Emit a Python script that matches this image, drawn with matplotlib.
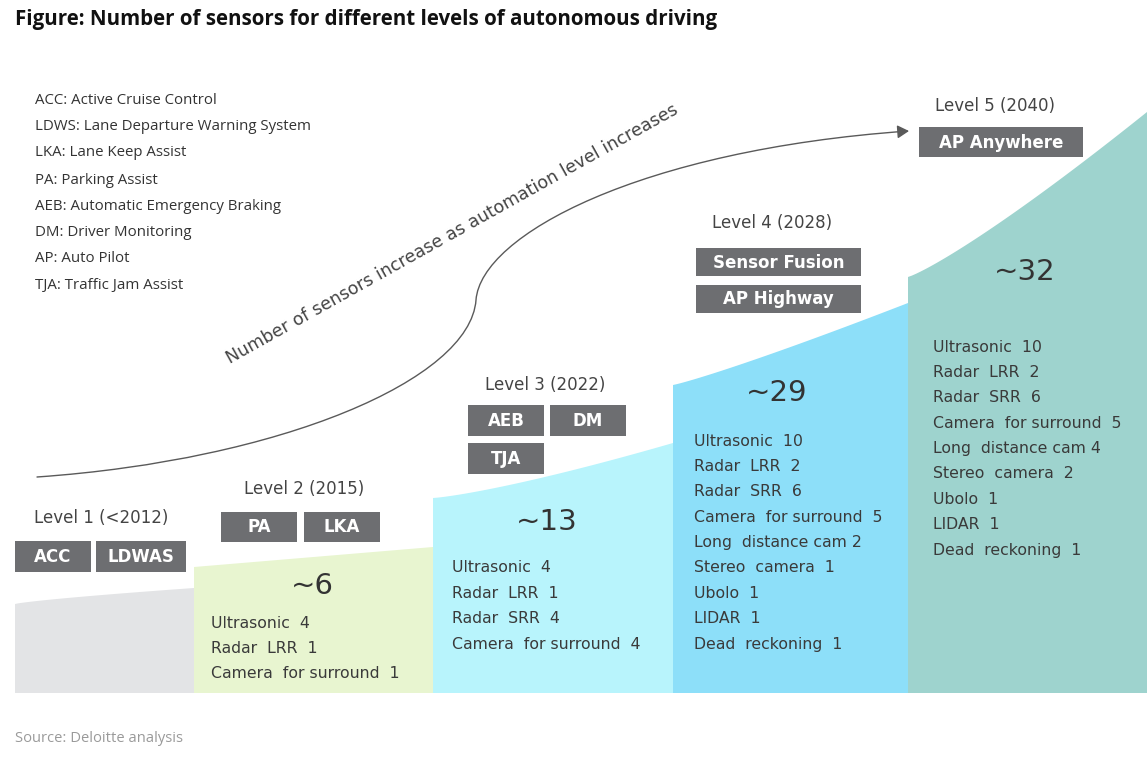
import matplotlib
matplotlib.use("Agg")
import matplotlib.pyplot as plt
import numpy as np
from matplotlib.path import Path
from matplotlib.patches import FancyArrowPatch, Rectangle, Polygon

# ---------------- data ----------------
title = "Figure: Number of sensors for different levels of autonomous driving"
source = "Source: Deloitte analysis"
glossary = ["ACC: Active Cruise Control",
            "LDWS: Lane Departure Warning System",
            "LKA: Lane Keep Assist",
            "PA: Parking Assist",
            "AEB: Automatic Emergency Braking",
            "DM: Driver Monitoring",
            "AP: Auto Pilot",
            "TJA: Traffic Jam Assist"]
levels = ["Level 1 (<2012)", "Level 2 (2015)", "Level 3 (2022)",
          "Level 4 (2028)", "Level 5 (2040)"]
totals = [None, "~6", "~13", "~29", "~32"]
features = [["ACC", "LDWAS"], ["PA", "LKA"], ["AEB", "DM", "TJA"],
            ["Sensor Fusion", "AP Highway"], ["AP Anywhere"]]
sensors = [
    [],
    [("Ultrasonic", 4), ("Radar  LRR", 1), ("Camera  for surround", 1)],
    [("Ultrasonic", 4), ("Radar  LRR", 1), ("Radar  SRR", 4), ("Camera  for surround", 4)],
    [("Ultrasonic", 10), ("Radar  LRR", 2), ("Radar  SRR", 6), ("Camera  for surround", 5),
     ("Long  distance cam", 2), ("Stereo  camera", 1), ("Ubolo", 1), ("LIDAR", 1),
     ("Dead  reckoning", 1)],
    [("Ultrasonic", 10), ("Radar  LRR", 2), ("Radar  SRR", 6), ("Camera  for surround", 5),
     ("Long  distance cam", 4), ("Stereo  camera", 2), ("Ubolo", 1), ("LIDAR", 1),
     ("Dead  reckoning", 1)],
]
arrow_label = "Number of sensors increase as automation level increases"

# ---------------- layout / style ----------------
col_colors = ["#e3e4e6", "#e8f5d0", "#b8f4fc", "#8ddff9", "#9ed3ce"]
col_left = [15, 194, 433, 673, 908]
col_right = [194, 433, 673, 908, 1147]
top_left = [604, 567, 498, 385, 277]
top_right = [588, 547, 443, 303, 112]
top_pow = [0.8, 1.0, 1.26, 1.11, 1.16]
bottom = 693
box_color = "#6d6e71"
text_dark = "#3a3a3a"

# box rectangles (x0, y0, x1, y1) per level
boxes = [
    [(15, 541, 91, 572), (96, 541, 186, 572)],
    [(221, 512, 297, 542), (304, 512, 380, 542)],
    [(468, 405, 544, 436), (550, 405, 626, 436), (468, 443, 544, 474)],
    [(696, 248, 861, 276), (696, 285, 861, 313)],
    [(919, 127, 1083, 157)],
]
level_pos = [(101, 518), (304, 489), (545, 385), (772, 223), (995, 106)]
total_pos = [None, (312, 586), (547, 522), (777, 393), (1025, 272)]
list_pos = [None, (211, 623), (452, 568), (694, 441), (933, 347)]
line_step = 25.4

W, H = 1148, 760
fig = plt.figure(figsize=(W / 100, H / 100), dpi=100)
ax = fig.add_axes([0, 0, 1, 1])
ax.set_xlim(0, W)
ax.set_ylim(H, 0)
ax.axis("off")

VER = ["DejaVu Sans"]
OS = ["Open Sans", "DejaVu Sans"]

# columns
for i in range(5):
    xs = np.linspace(col_left[i], col_right[i], 60)
    t = (xs - col_left[i]) / (col_right[i] - col_left[i])
    ys = top_left[i] + (top_right[i] - top_left[i]) * t ** top_pow[i]
    pts = list(zip(xs, ys)) + [(col_right[i], bottom), (col_left[i], bottom)]
    ax.add_patch(Polygon(pts, closed=True, facecolor=col_colors[i],
                         edgecolor="none", zorder=1))

# title & source
ax.text(15, 20, title, fontsize=14.8, fontweight="bold", family=OS,
        color="#111111", va="center", ha="left")
ax.text(15, 739, source, fontsize=10.6, family=OS, color="#9a9a9a",
        va="center", ha="left")

# glossary
gy = [101, 126, 153, 180, 206, 233, 258, 285]
for s, y in zip(glossary, gy):
    ax.text(35, y, s, fontsize=10.8, family=OS, color="#333333",
            va="center", ha="left")

# curved arrow
verts = [(37, 477), (280, 460), (470, 380), (476, 300),
         (481, 235), (640, 150), (909, 131)]
codes = [Path.MOVETO, Path.CURVE4, Path.CURVE4, Path.CURVE4,
         Path.CURVE4, Path.CURVE4, Path.CURVE4]
arr = FancyArrowPatch(path=Path(verts, codes),
                      arrowstyle="-|>,head_length=7,head_width=4",
                      color="#5a5a5a", lw=1.0, zorder=3)
ax.add_patch(arr)
ax.text(452, 234, arrow_label, fontsize=12.6, family=VER, color="#444444",
        rotation=29.2, rotation_mode="anchor", ha="center", va="center")

# levels
for i in range(5):
    lx, ly = level_pos[i]
    ax.text(lx, ly, levels[i], fontsize=12, family=VER, color="#444444",
            ha="center", va="center")
    for (x0, y0, x1, y1), lab in zip(boxes[i], features[i]):
        ax.add_patch(Rectangle((x0, y0), x1 - x0, y1 - y0,
                               facecolor=box_color, edgecolor="none", zorder=4))
        ax.text((x0 + x1) / 2, (y0 + y1) / 2 + 0.5, lab, fontsize=12,
                fontweight="bold", family=VER, color="white",
                ha="center", va="center", zorder=5)
    if totals[i]:
        tx, ty = total_pos[i]
        ax.text(tx, ty, totals[i], fontsize=21, family=VER, color="#333333",
                ha="center", va="center", zorder=5)
    if sensors[i]:
        sx, sy = list_pos[i]
        for k, (name, n) in enumerate(sensors[i]):
            sep = " " if name.endswith("cam") else "  "
            ax.text(sx, sy + k * line_step, f"{name}{sep}{n}", fontsize=11.3,
                    family=VER, color=text_dark, ha="left", va="center",
                    zorder=5)

fig.savefig("out.png", dpi=100)
